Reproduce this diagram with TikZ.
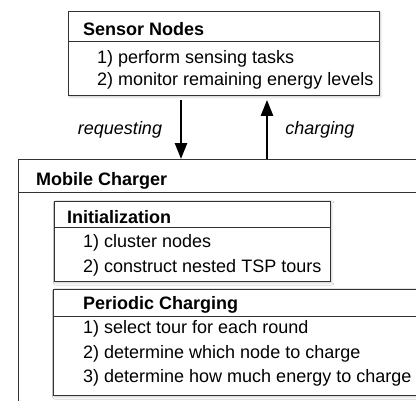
\documentclass[tikz,border=0pt]{standalone}
\usepackage{fontspec}
\setmainfont{Liberation Sans}
\usepackage{tikz}
\usetikzlibrary{arrows.meta, positioning, calc, shadows.blur}

\newcommand{\boxfont}{\fontsize{18}{21}\selectfont}

\tikzset{
  panel/.style={draw=black!80, line width=0.9pt, fill=white, inner sep=0pt, anchor=north west,
    blur shadow={shadow xshift=1.2pt, shadow yshift=-1.5pt, shadow blur steps=6, shadow opacity=22}},
  rule/.style={draw=black!80, line width=0.9pt},
  title/.style={anchor=base west, font=\boxfont\bfseries, inner sep=0pt},
  item/.style={anchor=base west, font=\boxfont, inner sep=0pt},
  tag/.style={anchor=base, font=\boxfont\itshape, inner sep=0pt},
  link/.style={line width=2.6pt, -{Triangle[width=12pt,length=16pt]}},
}

\begin{document}
\begin{tikzpicture}[x=1pt, y=-1pt]
  \clip (0,0) rectangle (416,400);
  % Sensor nodes
  \node[panel, minimum width=311pt, minimum height=84pt] (sensor) at (68,11) {};
  \draw[rule] ($(sensor.north west)+(0,30)$) -- ($(sensor.north east)+(0,30)$);
  \node[title] (sensortitle) at (83,35) {Sensor Nodes};
  \node[item] (sense1) at (97,63) {1) perform sensing tasks};
  \node[item] (sense2) at (97,85) {2) monitor remaining energy levels};
  % Mobile charger
  \node[panel, minimum width=420pt, minimum height=260pt] (charger) at (18,159) {};
  \draw[rule] ($(charger.north west)+(0,33)$) -- ($(charger.north east)+(0,33)$);
  \node[title] (chargertitle) at (36,185) {Mobile Charger};
  % Initialization
  \node[panel, minimum width=276pt, minimum height=80pt] (init) at (54,201) {};
  \draw[rule] ($(init.north west)+(0,26)$) -- ($(init.north east)+(0,26)$);
  \node[title] (inittitle) at (67,223) {Initialization};
  \node[item] (init1) at (83,247) {1) cluster nodes};
  \node[item] (init2) at (83,272) {2) construct nested TSP tours};
  % Periodic charging
  \node[panel, minimum width=380pt, minimum height=106pt] (periodic) at (53,289) {};
  \draw[rule] ($(periodic.north west)+(0,27)$) -- ($(periodic.north east)+(0,27)$);
  \node[title] (periodictitle) at (83,309) {Periodic Charging};
  \node[item] (round1) at (83,333) {1) select tour for each round};
  \node[item] (round2) at (83,358) {2) determine which node to charge};
  \node[item] (round3) at (83,382) {3) determine how much energy to charge};
  % Arrows
  \coordinate (reqx) at (181,0);
  \coordinate (chgx) at (267,0);
  \draw[link, shorten <=4pt] (sensor.south -| reqx) -- (charger.north -| reqx);
  \draw[link, shorten >=4pt] (charger.north -| chgx) -- (sensor.south -| chgx);
  \node[tag] (reqlabel) at (120,134) {requesting};
  \node[tag] (chglabel) at (320,134) {charging};
\end{tikzpicture}
\end{document}
